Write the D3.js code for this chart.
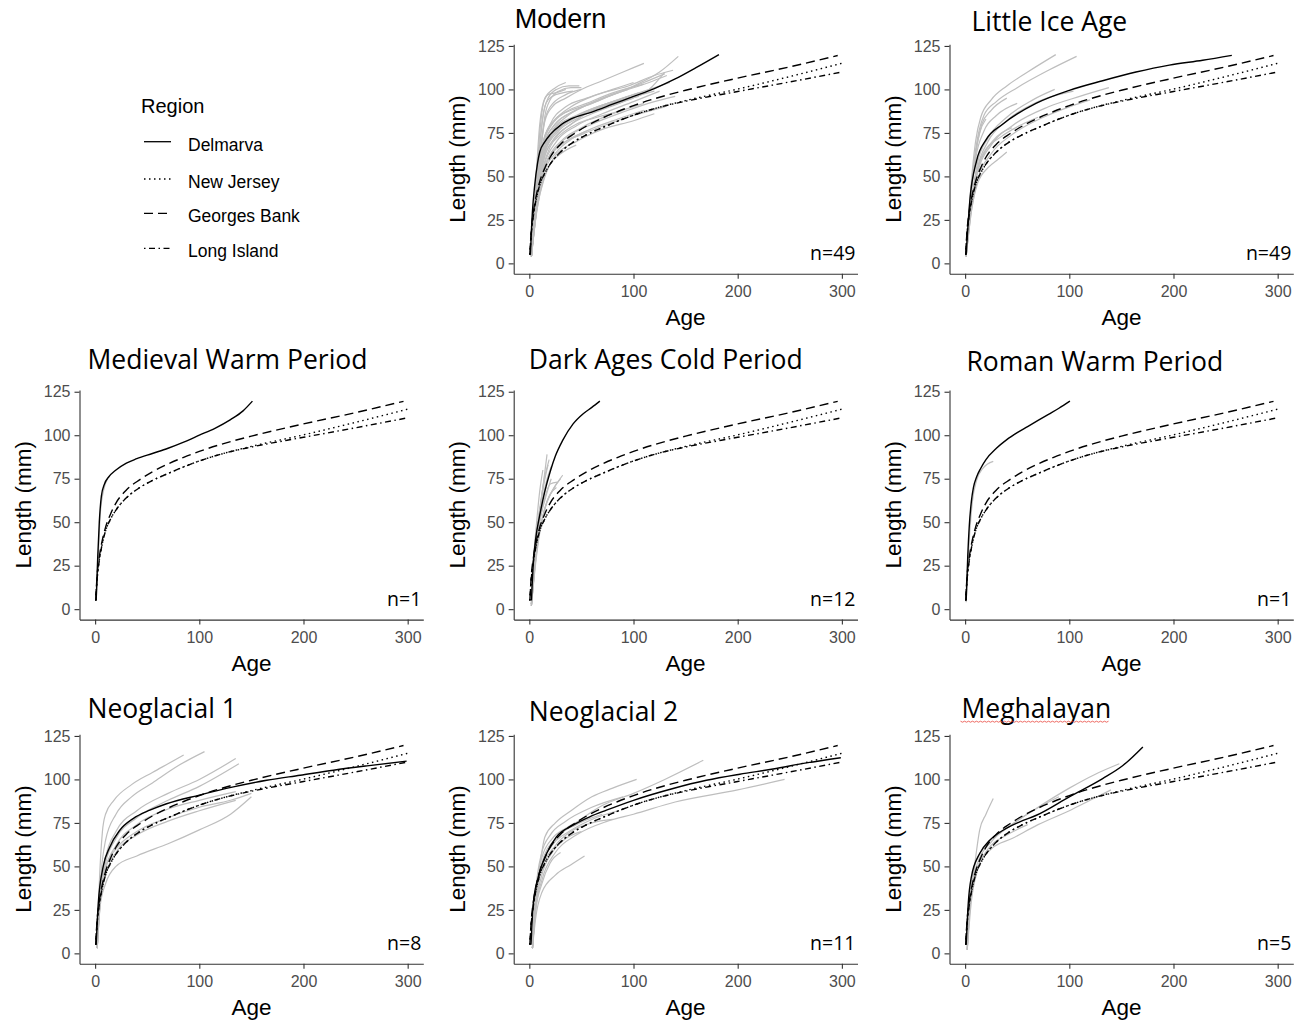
<!DOCTYPE html>
<html lang="en">
<head>
<meta charset="UTF-8">
<script src="https://cdn.jsdelivr.net/npm/d3@7"></script>
<title>Growth curves by climate period</title>
<style>
  body { margin: 0; background: #fff; }
  svg text { font-family: "Liberation Sans", Arial, sans-serif; }
  .tick text { font-size: 16px; fill: #4d4d4d; }
  .tick line, .domain { stroke: #333; stroke-width: 1.1; }
  text.ptitle { font-family: "Open Sans", sans-serif; font-size: 26.5px; }
  text.ptitle.arial { font-family: "Liberation Sans", Arial, sans-serif; font-size: 27px; }
  text.nlab { font-family: "Open Sans", sans-serif; font-size: 19.5px; }
  .atitle { font-size: 22.5px; }
</style>
</head>
<body>
<div id="chart"></div>
<script>
// ---- data ----
const periods = ["Modern", "Little Ice Age", "Medieval Warm Period", "Dark Ages Cold Period",
                 "Roman Warm Period", "Neoglacial 1", "Neoglacial 2", "Meghalayan"];
const counts = ["n=49", "n=49", "n=1", "n=12", "n=1", "n=8", "n=11", "n=5"];
const regions = ["Delmarva", "New Jersey", "Georges Bank", "Long Island"];
const xTicks = [0, 100, 200, 300];
const yTicks = [0, 25, 50, 75, 100, 125];

// regional reference curves [age, length] - same in every panel
const newJersey = [[0.5,5],[2,18],[4,28],[7,38],[10,45],[15,52],[20,57],[30,64],[43,70],[55,74],
  [70,78],[85,81.8],[100,85.2],[125,89.8],[150,93.6],[200,100.2],[250,107.4],[300,115]];
const georgesBank = [[0.5,5],[2,20],[4,30],[7,40],[10,47],[15,55],[20,61],[30,68.5],[43,74.5],[55,79],
  [70,83.5],[85,87.3],[100,90.7],[125,95.5],[150,99.5],[200,106.5],[250,113],[296,119.5]];
const longIsland = [[0.5,5],[2,18],[4,28],[7,38],[10,45],[15,52],[20,57],[30,64],[43,70],[55,74],
  [70,78],[85,81.8],[100,85.2],[125,89.8],[150,93.2],[200,98.8],[250,104.3],[300,110]];

// period mean curve (solid), one per panel
const delmarva = [
  [[1,5],[3,30],[5,44],[8,58],[10,64],[15,70],[20,74],[30,79.5],[40,83],[60,87],[80,91.5],[100,96],[120,100.5],[140,106],[160,112.5],[182,120]],
  [[1,5],[4.5,36],[11,59],[20,71],[36,80],[68,92],[100,99.5],[132,105],[164,110],[196,114],[228,116.8],[256,119.6]],
  [[1,5],[2.5,30],[4,50],[6,65],[9,72],[13,76],[20,80],[30,84],[40,86.5],[55,89.5],[70,92.5],[85,96],[100,100],[115,104],[130,109],[142,114],[151,119.6]],
  [[2,5],[4,28],[6,40],[10,54],[15,68],[20,79],[25,88],[32,97],[42,106.5],[52,112.5],[60,116],[67.7,119.6]],
  [[1,5],[2.5,30],[4,48],[6,62],[8,70],[11,76],[15,81],[20,86],[30,92.5],[40,97.5],[50,101.5],[60,105],[70,108.5],[80,112],[90,115.5],[100.6,119.6]],
  [[1,5],[3,28.7],[7.7,49.8],[14,61],[23.7,70.8],[36.5,77.5],[52.5,82.3],[68.6,86],[100,91],[132.7,95.7],[164.7,99.5],[196.8,102.4],[228.8,105.3],[261,107.8],[299,110.5]],
  [[1.6,5],[3.8,28.7],[8.6,44],[16.6,57.4],[26,67],[42,73.7],[58,78.5],[74,82.3],[100,88],[138,94.8],[170,99.5],[202,103],[234,106],[266,109.5],[299,112.5]],
  [[1,5],[3,28.7],[6,44],[14,57.4],[23.6,65],[36.4,70.8],[52.4,75.6],[68.4,79.4],[100,90],[132,100.5],[151.4,108],[170.6,118.7]]
];

// individual shells (grey), one list per panel
const modernShells = [
  [[2,4],[6,40],[10,75],[14,93],[18,97],[25,98],[35,100]],
  [[2,5],[6,45],[10,80],[15,95],[25,101],[35,104]],
  [[2,4],[8,50],[14,80],[20,90],[35,97],[50,100]],
  [[2,5],[7,40],[12,65],[20,80],[35,90],[55,95],[80,100],[100,104]],
  [[2,4],[8,45],[15,70],[25,80],[45,88],[70,95],[100,102],[125,110],[143,119]],
  [[2,5],[8,40],[15,62],[25,72],[40,80],[60,86],[90,93],[115,100],[130,110]],
  [[2,4],[8,35],[15,55],[25,66],[40,74],[60,80],[90,87],[120,93],[140,96]],
  [[2,5],[7,30],[15,50],[25,62],[45,70],[70,77],[100,82],[120,86]],
  [[2,4],[9,40],[18,60],[30,70],[50,78],[80,86],[110,92]],
  [[2,5],[8,42],[15,64],[28,76],[45,83],[70,90],[95,96]],
  [[2,4],[7,38],[14,60],[24,72],[40,80],[60,88],[85,94],[105,98]],
  [[2,5],[10,55],[16,75],[25,83],[40,88],[60,92],[80,97],[95,100]],
  [[2,4],[9,50],[15,68],[25,78],[45,85],[70,91],[100,97],[135,104]],
  [[2,4],[8,36],[16,58],[30,68],[50,74],[75,80],[100,85],[130,90]],
  [[2,5],[6,30],[12,50],[22,63],[35,70],[55,76]],
  [[2,4],[10,60],[15,82],[22,90],[35,95],[50,100],[70,105],[90,110],[110,115]],
  [[2,5],[9,55],[14,72],[24,82],[40,90],[65,97],[95,102],[120,108],[138,111]],
  [[2,4],[8,48],[14,70],[22,80],[35,87],[55,92],[80,98],[110,103]],
  [[2,5],[7,35],[13,55],[20,67],[30,74],[45,80],[65,84],[90,88]],
  [[2,4],[11,65],[15,85],[20,94],[28,99],[40,101],[50,101]],
  [[2,5],[8,40],[16,66],[30,78],[50,86],[75,92],[105,96]],
  [[2,4],[6,25],[12,45],[20,57],[30,63],[45,68]],
  [[2,4],[6,35],[12,60],[20,74],[35,84],[55,91],[80,97],[110,104],[130,109]],
  [[2,5],[7,32],[14,56],[26,70],[45,79],[70,86],[100,93],[125,99]],
  [[2,4],[8,55],[12,80],[16,92],[22,96],[32,98],[42,99]],
  [[2,5],[9,60],[13,84],[18,95],[26,100],[38,102],[48,102]],
  [[2,4],[7,42],[13,66],[22,78],[38,86],[60,92],[85,98],[115,104],[132,108]],
  [[2,5],[8,45],[15,66],[26,76],[42,83],[65,89],[90,94],[120,99]],
  [[2,4],[9,48],[16,68],[28,78],[48,85],[75,90],[100,95]],
  [[2,5],[7,33],[14,52],[26,64],[42,72],[62,78],[85,83],[110,88]]
];
const littleIceAgeShells = [
  [[1,4],[5,40],[10,70],[15,84],[25,94],[40,102],[60,110],[87,120]],
  [[1,4],[5,38],[10,65],[18,85],[30,93],[50,101],[80,111],[107,119]],
  [[1,4],[6,35],[12,58],[22,72],[40,84],[65,94],[86,100]],
  [[1,4],[6,33],[12,55],[22,70],[40,82],[70,93],[104,99]],
  [[1,4],[6,32],[12,52],[25,68],[45,79],[80,90],[110,96],[138,101]],
  [[1,4],[6,30],[12,48],[25,63],[45,74],[75,84],[100,90],[120,94]],
  [[1,4],[6,30],[12,46],[22,55],[32,60],[40,64]],
  [[1,4],[5,35],[10,60],[18,76],[30,85],[50,92]],
  [[1,4],[5,30],[10,50],[20,65],[35,73],[55,80],[70,84]],
  [[1,4],[4,30],[8,55],[14,75],[20,83]],
  [[1,4],[6,34],[14,58],[26,70],[45,78]],
  [[1,4],[5,36],[10,62],[16,80],[25,88],[40,95]]
];
const medievalShells = [
  [[1,5],[3,30],[5,55],[8,68],[12,75]]
];
const darkAgesShells = [
  [[2,2],[5,25],[8,45],[12,65],[17,89]],
  [[2,3],[5,28],[9,50],[13,70],[19,86]],
  [[2,2],[6,30],[10,52],[15,70],[21,82]],
  [[2,3],[6,32],[10,50],[16,65],[21,75]],
  [[2,2],[6,28],[11,48],[17,62],[24,70],[32,77]],
  [[2,3],[5,30],[9,48],[14,62],[20,72],[27,73]],
  [[2,2],[4,25],[7,45],[11,62],[15,78]],
  [[2,3],[6,34],[10,56],[14,72],[18,83]],
  [[2,2],[5,22],[9,42],[14,56],[20,66],[26,70]],
  [[2,3],[5,30],[8,48],[12,62],[16,70]],
  [[2,2],[6,26],[10,44],[15,58],[22,68],[30,75]],
  [[2,3],[4,28],[7,50],[10,68],[13,80]]
];
const romanShells = [
  [[1,4],[4,40],[7,62],[11,74],[17,81],[27,85]]
];
const neoglacial1Shells = [
  [[2,3],[4,40],[7,70],[10,80],[18,88],[35,97],[55,104],[70,109],[85,114]],
  [[2,3],[5,40],[10,65],[20,80],[35,90],[55,98],[80,108],[105,116]],
  [[2,3],[5,35],[10,55],[20,70],[40,82],[70,92],[100,100],[135,112]],
  [[2,3],[5,35],[10,52],[20,66],[40,78],[70,88],[100,96],[138,109]],
  [[2,3],[5,30],[10,48],[20,62],[40,74],[70,83],[100,88],[135,93]],
  [[2,3],[5,32],[10,50],[20,60],[40,70],[70,78],[100,84],[130,88],[150,92]],
  [[2,3],[5,28],[10,40],[20,50],[40,56],[70,63],[100,71],[130,80],[150,90]],
  [[2,3],[5,30],[10,45],[20,58],[40,68],[70,76],[100,82],[135,88]]
];
const neoglacial2Shells = [
  [[3,3],[6,30],[10,50],[15,67],[25,75],[40,82],[60,90],[80,95],[103,100]],
  [[3,3],[6,28],[12,50],[25,65],[45,75],[70,85],[100,92],[130,100],[167,111]],
  [[3,3],[6,25],[12,42],[25,58],[45,68],[75,76],[100,80],[140,87],[200,94],[245,100]],
  [[3,3],[6,20],[12,35],[25,45],[40,51],[53,56]],
  [[3,3],[6,28],[12,48],[25,62],[40,70],[60,75],[80,77]],
  [[3,3],[6,30],[12,52],[25,66],[45,74],[70,80]],
  [[3,3],[6,32],[12,55],[22,66],[35,72],[55,78]],
  [[3,3],[6,26],[12,45],[22,58],[35,66],[50,70]],
  [[3,3],[6,35],[12,58],[20,68],[35,76],[60,84],[90,90]],
  [[3,3],[6,24],[12,40],[20,52],[30,58]],
  [[3,3],[6,30],[12,50],[22,62],[38,70],[60,77],[85,82]]
];
const meghalayanShells = [
  [[2,2],[5,30],[9,50],[14,71],[20,80],[27,89]],
  [[2,2],[6,38],[12,52],[25,64],[45,74],[70,84],[100,95],[125,103],[148,109]],
  [[2,2],[6,35],[12,50],[25,60],[45,66],[70,74],[100,82],[120,88],[140,94]],
  [[2,2],[5,35],[10,52],[20,62],[40,72],[65,82],[90,90]],
  [[2,2],[6,30],[12,48],[22,60],[40,68],[60,74]]
];
const shells = [modernShells, littleIceAgeShells, medievalShells, darkAgesShells,
                romanShells, neoglacial1Shells, neoglacial2Shells, meghalayanShells];

// ---- layout ----
const width = 1306, height = 1024;
const colLeft = [79.5, 513.7, 949.5];
const rowTop = [44.2, 390, 734.2];
const pw = 343.8, ph = 229.6;
// panel slot [col,row] and title offset from panel corner
const slots = [[1,0],[2,0],[0,1],[1,1],[2,1],[0,2],[1,2],[2,2]];
const titleOff = [[1,-16],[22,-13],[8,-21],[15,-21],[17,-19],[8,-16],[15,-13],[12,-16]];
const dash = {"Delmarva": null, "New Jersey": "1.5,3.5", "Georges Bank": "9,5", "Long Island": "1.5,3.5,6,3.5"};

const svg = d3.select("#chart").append("svg")
  .attr("width", width).attr("height", height);

const x = d3.scaleLinear().domain([-15, 315]).range([0, pw]);
const y = d3.scaleLinear().domain([-6, 126]).range([ph, 0]);
const line = d3.line().x(d => x(d[0])).y(d => y(d[1])).curve(d3.curveMonotoneX);

periods.forEach(function(name, i) {
  const c = slots[i][0], r = slots[i][1];
  const g = svg.append("g").attr("transform", `translate(${colLeft[c]},${rowTop[r]})`);

  // grey individual shells
  g.selectAll("path.shell").data(shells[i]).enter().append("path")
    .attr("class", "shell")
    .attr("d", line)
    .attr("fill", "none").attr("stroke", "#bebebe").attr("stroke-width", 1.2);

  // regional curves, solid on top
  const curves = [
    {region: "New Jersey", pts: newJersey},
    {region: "Georges Bank", pts: georgesBank},
    {region: "Long Island", pts: longIsland},
    {region: "Delmarva", pts: delmarva[i]}
  ];
  g.selectAll("path.reg").data(curves).enter().append("path")
    .attr("class", "reg")
    .attr("d", d => line(d.pts))
    .attr("fill", "none").attr("stroke", "#000").attr("stroke-width", 1.4)
    .attr("stroke-dasharray", d => dash[d.region]);

  g.append("g").attr("transform", `translate(0,${ph})`)
    .call(d3.axisBottom(x).tickValues(xTicks).tickSize(5).tickSizeOuter(0).tickPadding(7));
  g.append("g")
    .call(d3.axisLeft(y).tickValues(yTicks).tickSize(5).tickSizeOuter(0).tickPadding(4));

  g.append("text").attr("class", "atitle")
    .attr("x", pw / 2).attr("y", ph + 51)
    .attr("text-anchor", "middle").text("Age");
  g.append("text").attr("class", "atitle")
    .attr("transform", `translate(-49,${ph / 2}) rotate(-90)`)
    .attr("text-anchor", "middle").text("Length (mm)");

  g.append("text").attr("class", "nlab")
    .attr("x", pw - 2).attr("y", ph - 14)
    .attr("text-anchor", "end").text(counts[i]);

  const t = g.append("text").attr("class", i === 0 ? "ptitle arial" : "ptitle")
    .attr("x", titleOff[i][0]).attr("y", titleOff[i][1]).text(name);
  if (name === "Meghalayan") {
    // red spell-check squiggle from the source document
    const w = t.node().getComputedTextLength();
    const pts = d3.range(0, w, 2).map((v, k) => [titleOff[i][0] - 1 + v, titleOff[i][1] + 3 + (k % 2)]);
    g.append("path").attr("d", d3.line()(pts))
      .attr("fill", "none").attr("stroke", "#e8453c").attr("stroke-width", 0.8);
  }
});

// legend
const lg = svg.append("g").attr("transform", "translate(141,0)");
lg.append("text").attr("x", 0).attr("y", 113).style("font-size", "20px").text("Region");
const legY = [141.7, 179, 213.3, 248.3];
regions.forEach(function(rg, k) {
  lg.append("line").attr("x1", 3).attr("x2", 30).attr("y1", legY[k]).attr("y2", legY[k])
    .attr("stroke", "#000").attr("stroke-width", 1.3)
    .attr("stroke-dasharray", dash[rg]);
  lg.append("text").attr("x", 47).attr("y", legY[k] + 9)
    .style("font-size", "17.5px").text(rg);
});
</script>
</body>
</html>
